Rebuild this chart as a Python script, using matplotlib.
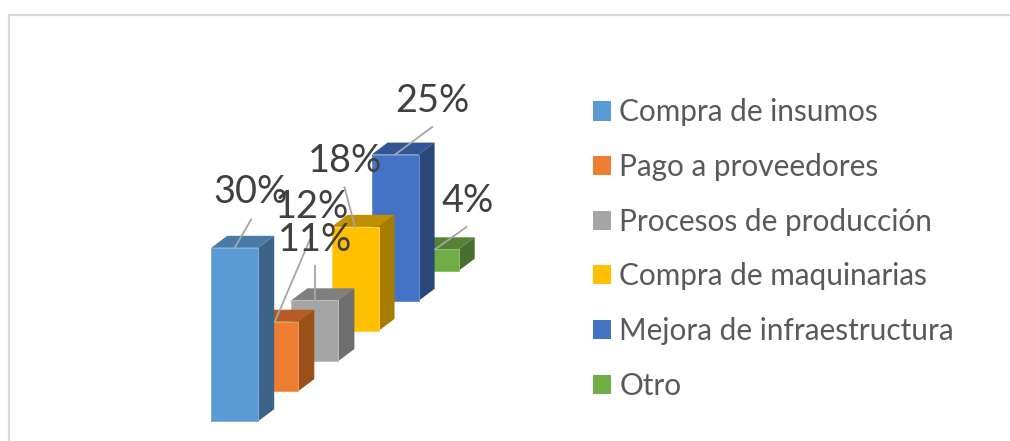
import matplotlib
matplotlib.use("Agg")
import matplotlib.pyplot as plt
from matplotlib.patches import Polygon, Patch

categories = ["Compra de insumos", "Pago a proveedores", "Procesos de producción",
              "Compra de maquinarias", "Mejora de infraestructura", "Otro"]
values = [30, 12, 10.5, 18, 25.3, 3.7]
labels = ["30%", "12%", "11%", "18%", "25%", "4%"]
front_colors = ["#5B9BD5", "#ED7D31", "#A5A5A5", "#FFC000", "#4472C4", "#70AD47"]
top_colors = ["#4A7BA8", "#B55D22", "#7F7F7F", "#BF9000", "#335593", "#558235"]
side_colors = ["#3C6488", "#9A5019", "#6E6E6E", "#A67C00", "#294878", "#47702E"]
edge_colors = ["#7DAFDD", "#F19A60", "#BDBDBD", "#FFD050", "#6A8FD0", "#8FC06E"]
# label centre relative to the bar's front-top centre (pixels)
label_dx = [16, 37, 0, -10, 37, 32]
label_dy = [-59, -118, -64, -69, -57, -52]
# leader start relative to the bar's front-top centre (pixels)
leader_dx = [16.5, 35, 0, -10.5, 37, 31.5]
leader_dy = [-28.5, -82, -34.5, -39.5, -27.5, -22.5]

W, H = 1010, 441
X0, Y0 = 211.2, 421.2      # front-bottom-left of the first bar
BAR_W = 47
STEP_X, STEP_Y = 40.1, -30.1
DEPTH_X, DEPTH_Y = 16, -12
PX_PER_PCT = 5.78

fig = plt.figure(figsize=(W / 100, H / 100), dpi=100)
ax = fig.add_axes([0, 0, 1, 1])
ax.set_xlim(0, W)
ax.set_ylim(H, 0)
ax.axis("off")
plt.rcParams["font.family"] = ["Lato", "DejaVu Sans"]

# chart frame
ax.plot([8.5, 8.5, W], [H, 14.5, 14.5], color="#D9D9D9", lw=1.6, solid_joinstyle="miter", zorder=1)

n = len(values)
for i in reversed(range(n)):
    l = X0 + i * STEP_X
    r = l + BAR_W
    b = Y0 + i * STEP_Y
    t = b - values[i] * PX_PER_PCT
    z = 2 + (n - i)
    ax.add_patch(Polygon([(l, t), (r, t), (r + DEPTH_X, t + DEPTH_Y), (l + DEPTH_X, t + DEPTH_Y)],
                         closed=True, fc=top_colors[i], ec="none", zorder=z))
    ax.add_patch(Polygon([(r, t), (r + DEPTH_X, t + DEPTH_Y), (r + DEPTH_X, b + DEPTH_Y), (r, b)],
                         closed=True, fc=side_colors[i], ec="none", zorder=z))
    ax.add_patch(Polygon([(l, b), (r, b), (r, t), (l, t)],
                         closed=True, fc=front_colors[i], ec=edge_colors[i], lw=0.7, zorder=z))

for i in range(n):
    cx = X0 + i * STEP_X + BAR_W / 2
    t = Y0 + i * STEP_Y - values[i] * PX_PER_PCT
    ax.plot([cx + leader_dx[i], cx], [t + leader_dy[i], t], color="#A6A6A6", lw=1.3, zorder=20)
    ax.text(cx + label_dx[i], t + label_dy[i], labels[i], ha="center", va="center_baseline",
            fontsize=27.3, color="#404040", zorder=21)

handles = [Patch(fc=c, ec="none", label=k) for c, k in zip(front_colors, categories)]
ax.legend(handles=handles, loc="center left", bbox_to_anchor=(593 / W, 1 - 249 / H),
          frameon=False, fontsize=21.4, labelcolor="#595959", handlelength=0.61, handleheight=0.61,
          handletextpad=0.27, labelspacing=0.895, borderaxespad=0, borderpad=0)

fig.savefig("out.png", dpi=100)
